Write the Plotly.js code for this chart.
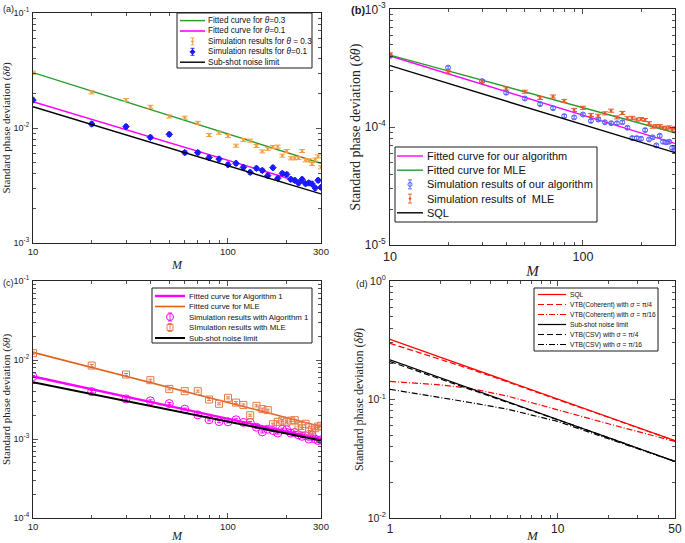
<!DOCTYPE html>
<html><head><meta charset="utf-8">
<script src="https://cdn.plot.ly/plotly-3.0.1.min.js"></script>
<style>html,body{margin:0;padding:0;background:#fff}#plot{width:685px;height:543px}</style>
</head><body><div id="plot"></div>
<script>
// ---------- data ----------
const M = [10,20,30,40,50,60,70,80,90,100,110,120,130,140,150,160,170,180,190,200,210,220,230,240,250,260,270,280,290,300];
const fitX = [10, 300];

// panel (a)
const aFit03 = [0.0303, 0.00493];
const aFit01 = [0.01694, 0.00299];
const aSSN   = [0.0153, 0.00267];
const aSim03 = [0.0303,0.0204,0.0175,0.0153,0.0126,0.0123,0.0111,0.00869,0.0091,0.00851,0.00702,0.00787,0.00776,0.00697,0.00626,0.0066,0.00684,0.00689,0.00575,0.00631,0.00545,0.00545,0.00548,0.00631,0.00524,0.00524,0.00487,0.00531,0.00567,0.00455];
const aSim01 = [0.0175,0.01084,0.01028,0.00829,0.00881,0.00611,0.00611,0.00552,0.00537,0.0048,0.00493,0.00455,0.00412,0.00446,0.00428,0.00385,0.00452,0.00365,0.00403,0.00395,0.00358,0.00351,0.00333,0.00358,0.00328,0.00333,0.00326,0.00301,0.00351,0.00305];

// panel (b)
const bFitOurs = [4.02e-4, 7.28e-5];
const bFitMLE  = [4.09e-4, 8.97e-5];
const bSQL     = [3.33e-4, 6.07e-5];
const bSimOurs = [4.02e-4,3.20e-4,2.46e-4,1.96e-4,1.75e-4,1.57e-4,1.45e-4,1.24e-4,1.21e-4,1.28e-4,1.13e-4,1.16e-4,1.10e-4,1.08e-4,1.08e-4,1.10e-4,9.89e-5,8.08e-5,8.08e-5,7.97e-5,9.44e-5,7.87e-5,8.19e-5,7.00e-5,8.45e-5,7.52e-5,7.43e-5,7.52e-5,6.68e-5,6.43e-5];
const bSimMLE  = [4.15e-4,2.92e-4,2.46e-4,2.13e-4,2.00e-4,1.77e-4,1.82e-4,1.67e-4,1.40e-4,1.46e-4,1.27e-4,1.25e-4,1.31e-4,1.38e-4,1.21e-4,1.32e-4,1.19e-4,1.20e-4,1.16e-4,1.17e-4,1.15e-4,1.08e-4,1.01e-4,1.02e-4,1.02e-4,9.89e-5,9.77e-5,9.95e-5,9.44e-5,9.77e-5];

// panel (c)
const cFitAlg = [0.00618, 0.00100];
const cFitMLE = [0.0125, 0.00144];
const cSSN    = [0.00522, 0.00096];
const cSimAlg = [0.00617,0.00398,0.00322,0.00304,0.00281,0.00239,0.00202,0.00175,0.00166,0.00165,0.00175,0.00162,0.00162,0.00141,0.00123,0.00133,0.00128,0.00119,0.00133,0.00131,0.00119,0.00121,0.00113,0.00108,0.0011,0.000997,0.00112,0.000997,0.000957,0.000977];
const cSimMLE = [0.0122,0.00851,0.00655,0.00555,0.00431,0.00403,0.00403,0.00316,0.00279,0.00332,0.00289,0.0027,0.0020,0.00263,0.00239,0.00232,0.00154,0.00165,0.00171,0.00165,0.00171,0.00173,0.00147,0.00136,0.00156,0.00124,0.00131,0.00137,0.00144,0.00147];

// panel (d)
const dM = [1,2,3,5,10,20,50];
const dSQLx = [1, 50];
const dSQL = [0.322, 0.0449];
const dSSN = [0.216, 0.0300];
const dCohPi4  = [0.298,0.218,0.181,0.141,0.100,0.0708,0.0448];
const dCohPi16 = [0.142,0.133,0.124,0.107,0.0818,0.0624,0.0443];
const dCsvPi4  = [0.209,0.149,0.123,0.0950,0.0675,0.0476,0.0300];
const dCsvPi16 = [0.122,0.104,0.0944,0.0829,0.0653,0.0467,0.0300];

// legend labels
const aNames = ['Fitted curve for <i>θ</i>=0.3', 'Fitted curve for <i>θ</i>=0.1', 'Simulation results for <i>θ</i> = 0.3', 'Simulation results for <i>θ</i>=0.1', 'Sub-shot noise limit'];
const bNames = ['Fitted curve for our algorithm', 'Fitted curve for MLE', 'Simulation results of our algorithm', 'Simulation results of  MLE', 'SQL'];
const cNames = ['Fitted curve for Algorithm 1', 'Fitted curve for MLE', 'Simulation results with Algorithm 1', 'SImulation results with MLE', 'Sub-shot noise limit'];
const dNames = ['SQL', 'VTB(Coherent) with <i>σ</i> = π/4', 'VTB(Coherent) with <i>σ</i> = π/16', 'Sub-shot noise limit', 'VTB(CSV) with <i>σ</i> = π/4', 'VTB(CSV) with <i>σ</i> = π/16'];

// ---------- styling helpers ----------
const SANS = 'Liberation Sans, Arial, sans-serif';
const SERIF = 'Liberation Serif, Times New Roman, serif';
const AX = '#262626';
const W = 685, H = 543;
const px = x => x / W, py = y => 1 - y / H;

// text measuring to fit legend text into MATLAB-like boxes
const ctx = document.createElement('canvas').getContext('2d');
function tw(str, size, fam) { ctx.font = size + 'px ' + fam; return ctx.measureText(str.replace(/<[^>]+>/g, '')).width; }
const narrowOK = tw('Simulation results', 20, '"Liberation Sans Narrow", monospace') !== tw('Simulation results', 20, 'monospace');
const NARROW = narrowOK ? '"Liberation Sans Narrow", "Liberation Sans", Arial, sans-serif' : SANS;
function fitSize(names, target, maxSize, fam) {
  const longest = Math.max.apply(null, names.map(n => tw(n, 10, fam)));
  return Math.min(maxSize, 10 * target / longest);
}

function minorList(lo, hi) {
  const out = [];
  for (let e = Math.floor(Math.log10(lo)); e <= Math.ceil(Math.log10(hi)); e++) {
    for (let k = 2; k <= 9; k++) { const v = k * Math.pow(10, e); if (v > lo * 1.0001 && v < hi * 0.9999) out.push(v); }
  }
  return out;
}
function logAxis(domain, lo, hi, anchor, tickvals, ticktext, fs, title, titleFs, standoff, tls) {
  return {
    type: 'log', domain: domain, range: [Math.log10(lo), Math.log10(hi)], anchor: anchor,
    tickmode: 'array', tickvals: tickvals, ticktext: ticktext,
    ticks: 'inside', ticklen: 5, tickwidth: 0.8, tickcolor: AX, ticklabelstandoff: tls || 0,
    minor: {tickmode: 'array', tickvals: minorList(lo, hi), ticks: 'inside', ticklen: 3, tickcolor: AX, tickwidth: 0.8},
    showline: true, linecolor: AX, linewidth: 1, mirror: 'allticks',
    showgrid: false, zeroline: false, automargin: false,
    tickfont: {family: SANS, size: fs, color: '#222'},
    title: {text: title, font: {family: SERIF, size: titleFs, color: '#222'}, standoff: standoff}
  };
}
const sup = e => '10<sup>' + e + '</sup>';
const YT = 'Standard phase deviation (<i>δθ</i>)';

const ORANGE_A = '#f0a040', BLUE_A = '#1a1aff', GREEN = '#2a9a2a', MAG = '#ff00ff';
const BLUE_B = '#5560ff', ORANGE_B = '#e8582a', ORANGE_C = '#e07a4a', ORANGE_CL = '#e0601a';

function line(x, y, color, w, xa, ya, dash) {
  return {x: x, y: y, type: 'scatter', mode: 'lines', xaxis: xa, yaxis: ya, showlegend: false,
          line: {color: color, width: w, dash: dash || 'solid'}};
}
function pts(x, y, color, symbol, size, xa, ya, errPct, capW, lw) {
  return {x: x, y: y, type: 'scatter', mode: 'markers', xaxis: xa, yaxis: ya, showlegend: false,
          marker: {color: color, symbol: symbol, size: size, line: {color: color, width: lw || 1}},
          error_y: {type: 'percent', value: errPct, color: color, thickness: 1, width: capW}};
}

const traces = [
  // (a)
  line(fitX, aFit03, GREEN, 1.4, 'x', 'y'),
  line(fitX, aFit01, MAG, 1.6, 'x', 'y'),
  pts(M, aSim03, ORANGE_A, 'circle', 2, 'x', 'y', 3, 3),
  pts(M, aSim01, BLUE_A, 'diamond', 5, 'x', 'y', 4, 2),
  line(fitX, aSSN, '#000', 1.4, 'x', 'y'),
  // (b)
  line(fitX, bFitOurs, MAG, 1.4, 'x2', 'y2'),
  line(fitX, bFitMLE, GREEN, 1.4, 'x2', 'y2'),
  pts(M, bSimOurs, BLUE_B, 'circle-open', 5, 'x2', 'y2', 3, 2),
  pts(M, bSimMLE, ORANGE_B, 'circle', 2, 'x2', 'y2', 3, 3),
  line(fitX, bSQL, '#000', 1.4, 'x2', 'y2'),
  // (c)
  line(fitX, cFitAlg, MAG, 2.4, 'x3', 'y3'),
  line(fitX, cFitMLE, ORANGE_CL, 1.6, 'x3', 'y3'),
  pts(M, cSimAlg, MAG, 'circle-open', 8, 'x3', 'y3', 3, 2),
  pts(M, cSimMLE, ORANGE_C, 'square-open', 7, 'x3', 'y3', 3, 2),
  line(fitX, cSSN, '#000', 2, 'x3', 'y3'),
  // (d)
  line(dSQLx, dSQL, '#ff0000', 1.2, 'x4', 'y4'),
  line(dM, dCohPi4, '#ff0000', 1.2, 'x4', 'y4', '6px,3px'),
  line(dM, dCohPi16, '#ff0000', 1.2, 'x4', 'y4', '6px,2px,1px,2px'),
  line(dSQLx, dSSN, '#000', 1.2, 'x4', 'y4'),
  line(dM, dCsvPi4, '#000', 1.2, 'x4', 'y4', '6px,3px'),
  line(dM, dCsvPi16, '#000', 1.2, 'x4', 'y4', '6px,2px,1px,2px')
];

// ---------- hand-built legends (compact, MATLAB-like) ----------
const shapes = [], annotations = [];
function legendBox(box, y0, dy, sx0, sx1, tx, textW, maxFs, fam, names, items) {
  const fs = fitSize(names, textW, maxFs, fam);
  shapes.push({type: 'rect', xref: 'paper', yref: 'paper', x0: px(box[0]), x1: px(box[1]), y0: py(box[2]), y1: py(box[3]),
               fillcolor: '#fff', line: {color: '#1a1a1a', width: 1}, layer: 'above'});
  items.forEach((it, i) => {
    const yc = y0 + dy * i, xc = (sx0 + sx1) / 2;
    const L = (x0, ya, x1, yb, c, w, dash) => shapes.push({type: 'line', xref: 'paper', yref: 'paper',
      x0: px(x0), y0: py(ya), x1: px(x1), y1: py(yb), line: {color: c, width: w, dash: dash || 'solid'}, layer: 'above'});
    if (it.kind === 'line') {
      L(sx0, yc, sx1, yc, it.color, it.width, it.dash);
    } else {
      const e = it.err, cw = it.cap;
      L(xc, yc - e, xc, yc + e, it.color, 0.9);
      L(xc - cw, yc - e, xc + cw, yc - e, it.color, 0.9);
      L(xc - cw, yc + e, xc + cw, yc + e, it.color, 0.9);
      const r = it.r;
      const base = {xref: 'paper', yref: 'paper', layer: 'above', line: {color: it.color, width: 1}};
      if (it.symbol === 'dot') {
        shapes.push(Object.assign({}, base, {type: 'circle', x0: px(xc - r), x1: px(xc + r), y0: py(yc - r), y1: py(yc + r), fillcolor: it.color}));
      } else if (it.symbol === 'circle') {
        shapes.push(Object.assign({}, base, {type: 'circle', x0: px(xc - r), x1: px(xc + r), y0: py(yc - r), y1: py(yc + r)}));
      } else if (it.symbol === 'square') {
        shapes.push(Object.assign({}, base, {type: 'rect', x0: px(xc - r), x1: px(xc + r), y0: py(yc - r), y1: py(yc + r)}));
      } else if (it.symbol === 'diamond') {
        const p = `M${px(xc - r)},${py(yc)} L${px(xc)},${py(yc - r)} L${px(xc + r)},${py(yc)} L${px(xc)},${py(yc + r)} Z`;
        shapes.push(Object.assign({}, base, {type: 'path', path: p, fillcolor: it.color}));
      }
    }
    annotations.push({text: names[i], x: px(tx), y: py(yc), xref: 'paper', yref: 'paper', xanchor: 'left', yanchor: 'middle',
                      showarrow: false, font: {family: fam, size: fs, color: '#111'}});
  });
}
legendBox([177, 312, 13, 68], 20.6, 10.4, 180, 205, 206, 104, 9.5, SANS, aNames, [
  {kind: 'line', color: GREEN, width: 1.4},
  {kind: 'line', color: MAG, width: 1.6},
  {kind: 'marker', color: ORANGE_A, symbol: 'dot', r: 0.9, err: 3.5, cap: 2},
  {kind: 'marker', color: BLUE_A, symbol: 'diamond', r: 2.5, err: 3.5, cap: 2},
  {kind: 'line', color: '#000', width: 1.4}
]);
legendBox([395, 597, 147, 222], 156, 14.2, 397, 423, 425, 166, 13, SANS, bNames, [
  {kind: 'line', color: MAG, width: 1.4},
  {kind: 'line', color: GREEN, width: 1.4},
  {kind: 'marker', color: BLUE_B, symbol: 'circle', r: 2, err: 4.5, cap: 2},
  {kind: 'marker', color: ORANGE_B, symbol: 'dot', r: 0.9, err: 4.5, cap: 2},
  {kind: 'line', color: '#000', width: 1.4}
]);
legendBox([152, 312, 288, 343], 296, 10.5, 155, 185, 187, 120, 9.5, SANS, cNames, [
  {kind: 'line', color: MAG, width: 2.4},
  {kind: 'line', color: ORANGE_CL, width: 1.6},
  {kind: 'marker', color: MAG, symbol: 'circle', r: 3.5, err: 4, cap: 2},
  {kind: 'marker', color: ORANGE_C, symbol: 'square', r: 3, err: 4, cap: 2},
  {kind: 'line', color: '#000', width: 2}
]);
legendBox([534, 658, 288, 351], 294.5, 10, 538, 566, 568, 86, 8.5, NARROW, dNames, [
  {kind: 'line', color: '#ff0000', width: 1.2},
  {kind: 'line', color: '#ff0000', width: 1.2, dash: '6px,3px'},
  {kind: 'line', color: '#ff0000', width: 1.2, dash: '6px,2px,1px,2px'},
  {kind: 'line', color: '#000', width: 1.2},
  {kind: 'line', color: '#000', width: 1.2, dash: '6px,3px'},
  {kind: 'line', color: '#000', width: 1.2, dash: '6px,2px,1px,2px'}
]);

// panel letters
[['(a)', 0.5, 2, 9], ['<b>(b)</b>', 349, 2, 11], ['(c)', 0.5, 276, 9], ['(d)', 354, 276, 9.5]].forEach(p => {
  annotations.push({text: p[0], x: px(p[1]), y: py(p[2]), xref: 'paper', yref: 'paper', xanchor: 'left', yanchor: 'top',
                    showarrow: false, font: {family: SANS, size: p[3], color: '#222'}});
});

const dx = (a, b) => [a / W, b / W];
const dy = (top, bot) => [1 - bot / H, 1 - top / H];

const layout = {
  width: W, height: H, margin: {l: 0, r: 0, t: 0, b: 0},
  paper_bgcolor: '#fff', plot_bgcolor: '#fff', showlegend: false,
  xaxis:  logAxis(dx(33, 321), 10, 300, 'y', [10, 100, 300], ['10', '100', '300'], 9.5, '<i>M</i>', 12, 4),
  yaxis:  logAxis(dy(13, 243), 1e-3, 1e-1, 'x', [1e-3, 1e-2, 1e-1], [sup('-3'), sup('-2'), sup('-1')], 9, YT, 11, 2, 1),
  xaxis2: logAxis(dx(390, 675), 10, 300, 'y2', [10, 100, 300], ['10', '100', '300'], 12.5, '<i>M</i>', 15, 2),
  yaxis2: logAxis(dy(9.3, 245), 1e-5, 1e-3, 'x2', [1e-5, 1e-4, 1e-3], [sup('-5'), sup('-4'), sup('-3')], 12, YT, 14, 0, 1),
  xaxis3: logAxis(dx(33, 321), 10, 300, 'y3', [10, 100, 300], ['10', '100', '300'], 9.5, '<i>M</i>', 12, 4),
  yaxis3: logAxis(dy(281, 518), 1e-4, 1e-1, 'x3', [1e-4, 1e-3, 1e-2, 1e-1], [sup('-4'), sup('-3'), sup('-2'), sup('-1')], 9, YT, 11, 2, 1),
  xaxis4: logAxis(dx(390, 675), 1, 50, 'y4', [1, 10, 50], ['1', '10', '50'], 12, '<i>M</i>', 13, 2),
  yaxis4: logAxis(dy(281, 518), 1e-2, 1, 'x4', [1e-2, 1e-1, 1], [sup('-2'), sup('-1'), sup('0')], 10.5, YT, 12, 1, 1),
  shapes: shapes,
  annotations: annotations
};

Plotly.newPlot('plot', traces, layout, {staticPlot: true, displayModeBar: false});
</script></body></html>
